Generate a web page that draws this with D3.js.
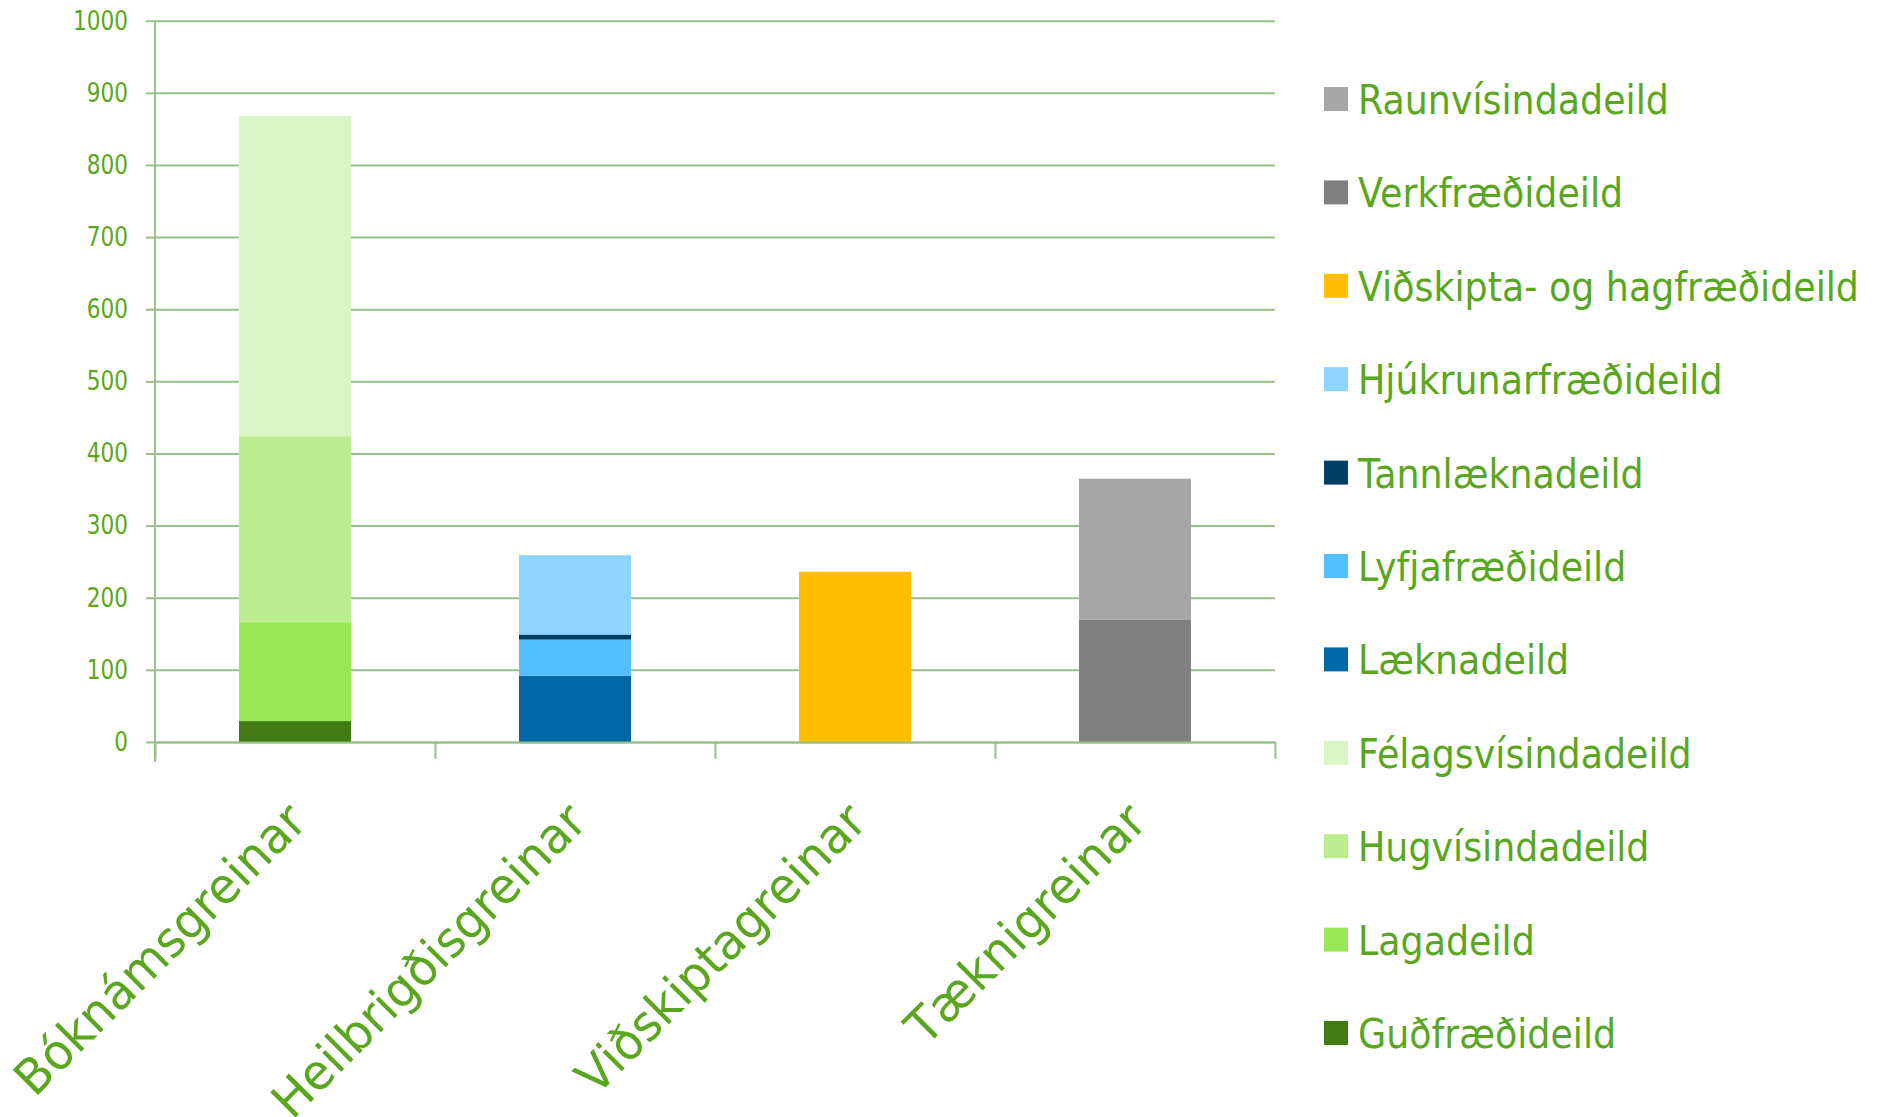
<!DOCTYPE html>
<html>
<head>
<meta charset="utf-8">
<script src="https://cdn.jsdelivr.net/npm/d3@7"></script>
<style>
  body{margin:0;background:#fff}
  svg{display:block}
  text{font-family:"DejaVu Sans",Verdana,sans-serif;fill:#5aa61e}
</style>
</head>
<body>
<svg id="chart" width="1888" height="1117"></svg>
<script>
// categories on the x axis
const categories = ['Bóknámsgreinar', 'Heilbrigðisgreinar', 'Viðskiptagreinar', 'Tæknigreinar'];

// series in stacking order (bottom → top)
const series = [
  'Guðfræðideild', 'Lagadeild', 'Hugvísindadeild', 'Félagsvísindadeild',
  'Læknadeild', 'Lyfjafræðideild', 'Tannlæknadeild', 'Hjúkrunarfræðideild',
  'Viðskipta- og hagfræðideild', 'Verkfræðideild', 'Raunvísindadeild',
];

// one row per series, one value per category
const values = [
  [29, 0, 0, 0],
  [137, 0, 0, 0],
  [258, 0, 0, 0],
  [444, 0, 0, 0],
  [0, 92, 0, 0],
  [0, 50, 0, 0],
  [0, 7, 0, 0],
  [0, 110, 0, 0],
  [0, 0, 236, 0],
  [0, 0, 0, 170],
  [0, 0, 0, 195],
];

const seriesColors = [
  '#427b11', '#98e756', '#bbed8f', '#daf5c6',
  '#0069a5', '#52bfff', '#004066', '#8dd4ff',
  '#ffbf00', '#808080', '#a6a6a6',
];

const yTicks = [0, 100, 200, 300, 400, 500, 600, 700, 800, 900, 1000];

const svg = d3.select('#chart');
const gridColor = '#98c08c';
const plot = { left: 155, right: 1275, top: 20.7, bottom: 742 };

const table = categories.map((c, i) => {
  const row = { cat: c };
  series.forEach((s, j) => { row[s] = values[j][i]; });
  return row;
});
const stacked = d3.stack().keys(series)(table);

const x = d3.scaleBand().domain(categories).range([plot.left, plot.right]);
const y = d3.scaleLinear().domain([0, 1000]).range([plot.bottom, plot.top]);
const color = d3.scaleOrdinal(series, seriesColors);
const barW = x.bandwidth() * 0.4;

// measure + horizontally condense text to mimic a narrower face
function condense(size, sample, target) {
  const probe = svg.append('text').attr('font-size', size).text(sample);
  const w = probe.node().getComputedTextLength();
  probe.remove();
  return target / w;
}

// gridlines
const grid = svg.append('g').attr('transform', `translate(${plot.left},0)`)
  .call(d3.axisLeft(y).tickValues(yTicks).tickSize(-(plot.right - plot.left)).tickFormat(''));
grid.select('.domain').remove();
grid.selectAll('line').attr('stroke', gridColor).attr('stroke-width', 2);

// y axis ticks + labels
const yAxis = svg.append('g').attr('transform', `translate(${plot.left},0)`)
  .call(d3.axisLeft(y).tickValues(yTicks).tickFormat(d3.format('d')).tickSize(9).tickPadding(18));
yAxis.select('.domain').remove();
yAxis.selectAll('line').attr('stroke', gridColor).attr('stroke-width', 2);
const ySx = condense(26, '1000', 55);
yAxis.selectAll('text').attr('font-size', 26).attr('fill', '#5aa61e')
  .attr('font-family', '"DejaVu Sans",Verdana,sans-serif')
  .attr('transform', function () {
    const xx = +d3.select(this).attr('x');
    return `translate(${xx},0) scale(${ySx},1) translate(${-xx},0)`;
  });

// bars
svg.append('g').selectAll('g').data(stacked).join('g')
  .attr('fill', d => color(d.key))
  .selectAll('rect').data(d => d.filter(p => p[1] - p[0] > 0)).join('rect')
  .attr('x', d => x(d.data.cat) + (x.bandwidth() - barW) / 2)
  .attr('width', barW)
  .attr('y', d => y(d[1]))
  .attr('height', d => y(d[0]) - y(d[1]));

// y axis line
svg.append('line')
  .attr('x1', plot.left).attr('x2', plot.left)
  .attr('y1', plot.top).attr('y2', plot.bottom + 20)
  .attr('stroke', gridColor).attr('stroke-width', 2);

// x axis with ticks between categories
const xb = d3.scaleLinear().domain([0, categories.length]).range([plot.left, plot.right]);
const xAxis = svg.append('g').attr('transform', `translate(0,${plot.bottom})`)
  .call(d3.axisBottom(xb).tickValues(d3.range(categories.length + 1)).tickSize(17).tickSizeOuter(0).tickFormat(''));
xAxis.selectAll('line,path').attr('stroke', gridColor).attr('stroke-width', 2);

// category labels, rotated
const xl = svg.append('g').attr('font-size', 49);
const xSx = condense(49, 'Bóknámsgreinar', 388);
xl.selectAll('text').data(categories).join('text')
  .attr('text-anchor', 'end')
  .attr('transform', d => `translate(${x(d) + x.bandwidth() / 2 + 14},${plot.bottom + 82}) rotate(-45) scale(${xSx},1)`)
  .text(d => d);

// legend (reverse order)
const legendSeries = series.slice().reverse();
const ly = d3.scaleLinear().domain([0, legendSeries.length - 1]).range([99, 1033]);
const legend = svg.append('g').attr('transform', 'translate(1324,0)').attr('font-size', 41);
const lSx = condense(41, 'Raunvísindadeild', 311);
const item = legend.selectAll('g').data(legendSeries).join('g')
  .attr('transform', (d, i) => `translate(0,${ly(i)})`);
item.append('rect').attr('x', 0).attr('y', -12).attr('width', 24).attr('height', 24)
  .attr('fill', d => color(d));
item.append('text').attr('transform', `translate(34,15) scale(${lSx},1)`).text(d => d);
</script>
</body>
</html>
